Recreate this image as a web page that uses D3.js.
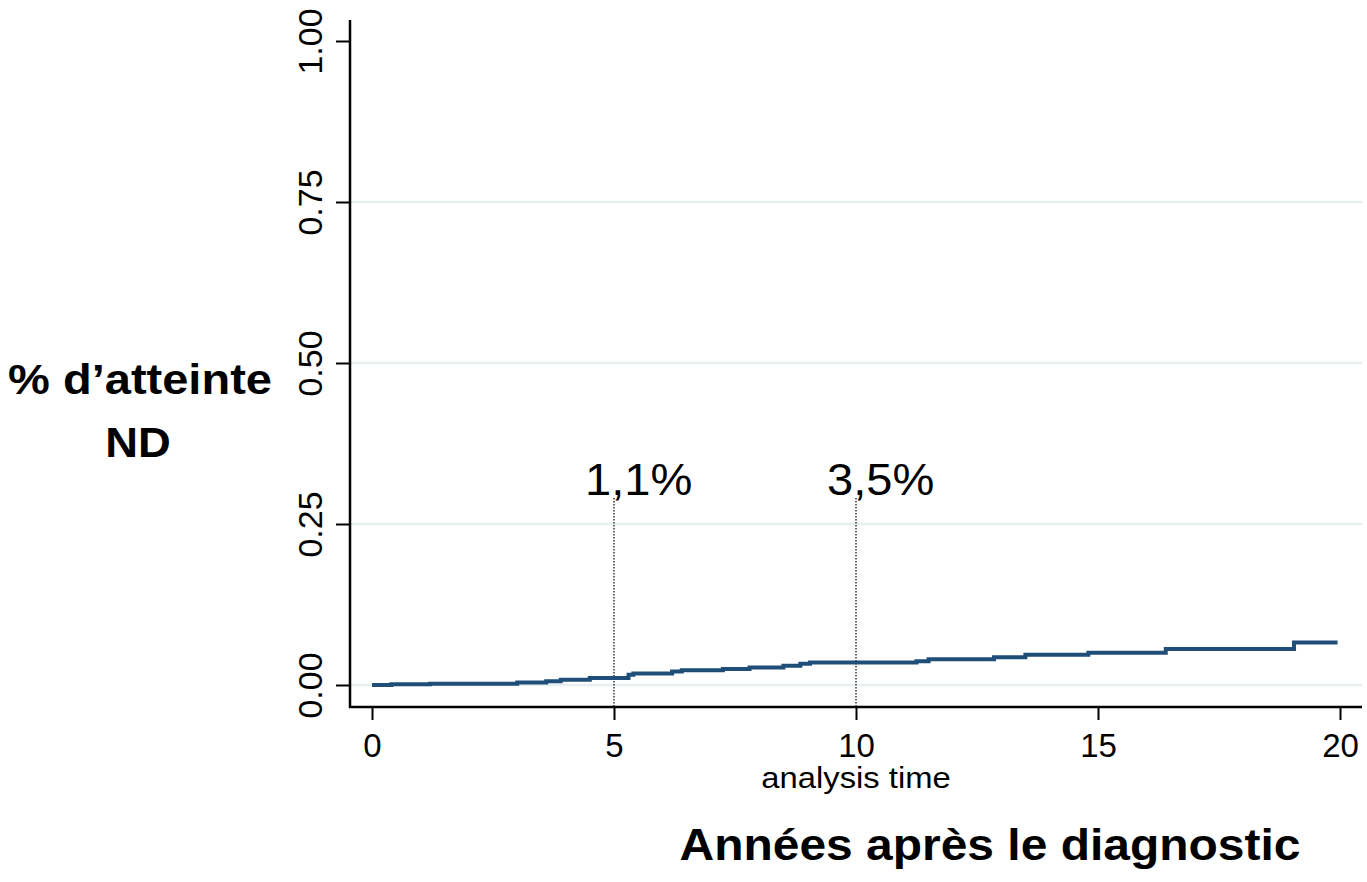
<!DOCTYPE html>
<html>
<head>
<meta charset="utf-8">
<script src="https://cdn.jsdelivr.net/npm/d3@7"></script>
<style>
  html, body { margin: 0; padding: 0; background: #fff; }
  svg { display: block; }
  text { font-family: "Liberation Sans", Arial, Helvetica, sans-serif; fill: #000; }
</style>
</head>
<body>
<svg id="chart" width="1367" height="882"></svg>
<script>
// Cumulative incidence (Kaplan-Meier failure) step function
const stepTimes  = [0, 0.4, 1.2, 3.0, 3.6, 3.9, 4.5, 5.3, 5.4, 6.2, 6.4, 7.25, 7.8, 8.5, 8.85, 9.05, 11.25, 11.5, 12.85, 13.5, 14.8, 16.4, 19.05];
const stepValues = [0, 0.001, 0.002, 0.004, 0.006, 0.008, 0.011, 0.016, 0.018, 0.021, 0.023, 0.025, 0.027, 0.030, 0.033, 0.035, 0.037, 0.040, 0.043, 0.047, 0.050, 0.056, 0.066];
const lastTime = 19.95;

// Axis ticks
const xTicks = [0, 5, 10, 15, 20];
const yTicks = [0, 0.25, 0.5, 0.75, 1];
const gridTicks = [0, 0.25, 0.5, 0.75];

// Annotated time points
const markTimes  = [5, 10];
const markLabels = ["1,1%", "3,5%"];

const svg = d3.select("#chart");

const x = d3.scaleLinear().domain([0, 20]).range([372, 1340]);
const y = d3.scaleLinear().domain([0, 1]).range([685, 41]);

const plotLeft = 350, plotRight = 1362, plotBottom = 707, plotTop = 20;

// gridlines
svg.append("g")
  .selectAll("line")
  .data(gridTicks)
  .join("line")
  .attr("x1", plotLeft).attr("x2", plotRight)
  .attr("y1", d => y(d)).attr("y2", d => y(d))
  .attr("stroke", "#e7eff1")
  .attr("stroke-width", 2.5);

// y axis
const yAxis = d3.axisLeft(y)
  .tickValues(yTicks)
  .tickFormat(d3.format(".2f"))
  .tickSize(14)
  .tickSizeOuter(0)
  .tickPadding(14);

const gy = svg.append("g")
  .attr("transform", `translate(${plotLeft},0)`)
  .call(yAxis);
gy.select(".domain").remove();
gy.selectAll(".tick line").attr("stroke", "#000").attr("stroke-width", 2);
gy.selectAll(".tick text")
  .attr("font-size", 34)
  .attr("text-anchor", "middle")
  .attr("x", 0).attr("dy", 0)
  .attr("transform", "translate(-28,0) rotate(-90)");

// x axis
const xAxis = d3.axisBottom(x)
  .tickValues(xTicks)
  .tickFormat(d3.format("d"))
  .tickSize(13)
  .tickSizeOuter(0)
  .tickPadding(12);

const gx = svg.append("g")
  .attr("transform", `translate(0,${plotBottom})`)
  .call(xAxis);
gx.select(".domain").remove();
gx.selectAll(".tick line").attr("stroke", "#000").attr("stroke-width", 2);
gx.selectAll(".tick text")
  .attr("font-size", 33)
  .attr("dy", 0)
  .attr("y", 50);

// axis lines
svg.append("line")
  .attr("x1", plotLeft).attr("x2", plotLeft)
  .attr("y1", plotTop).attr("y2", plotBottom + 1)
  .attr("stroke", "#000").attr("stroke-width", 2.5);
svg.append("line")
  .attr("x1", plotLeft - 1).attr("x2", plotRight)
  .attr("y1", plotBottom).attr("y2", plotBottom)
  .attr("stroke", "#000").attr("stroke-width", 2.5);

// dotted reference lines
svg.append("g")
  .selectAll("line")
  .data(markTimes)
  .join("line")
  .attr("x1", d => x(d)).attr("x2", d => x(d))
  .attr("y1", 498).attr("y2", plotBottom)
  .attr("stroke", "#000")
  .attr("stroke-width", 1.2)
  .attr("stroke-dasharray", "1.5,1.5");

// step curve
const pts = stepTimes.map((t, i) => [t, stepValues[i]]);
pts.push([lastTime, stepValues[stepValues.length - 1]]);

svg.append("path")
  .datum(pts)
  .attr("fill", "none")
  .attr("stroke", "#1f4e79")
  .attr("stroke-width", 4)
  .attr("d", d3.line()
    .x(d => x(d[0]))
    .y(d => y(d[1]))
    .curve(d3.curveStepAfter));

// value labels
svg.append("g")
  .selectAll("text")
  .data(markTimes)
  .join("text")
  .attr("transform", d => `translate(${x(d) - 29},495) scale(1.07,1)`)
  .attr("font-size", 44)
  .text((d, i) => markLabels[i]);

// axis titles
svg.append("text")
  .attr("transform", "translate(856,788) scale(1.13,1)")
  .attr("text-anchor", "middle")
  .attr("font-size", 29)
  .text("analysis time");

svg.append("text")
  .attr("transform", "translate(990,860) scale(1.09,1)")
  .attr("text-anchor", "middle")
  .attr("font-size", 44)
  .attr("font-weight", "bold")
  .text("Années après le diagnostic");

const ylab = svg.append("g");
ylab.append("text")
  .attr("transform", "translate(140,394) scale(1.12,1)")
  .attr("text-anchor", "middle")
  .attr("font-size", 42)
  .attr("font-weight", "bold")
  .text("% d’atteinte");
ylab.append("text")
  .attr("transform", "translate(138,457) scale(1.08,1)")
  .attr("text-anchor", "middle")
  .attr("font-size", 42)
  .attr("font-weight", "bold")
  .text("ND");
</script>
</body>
</html>
